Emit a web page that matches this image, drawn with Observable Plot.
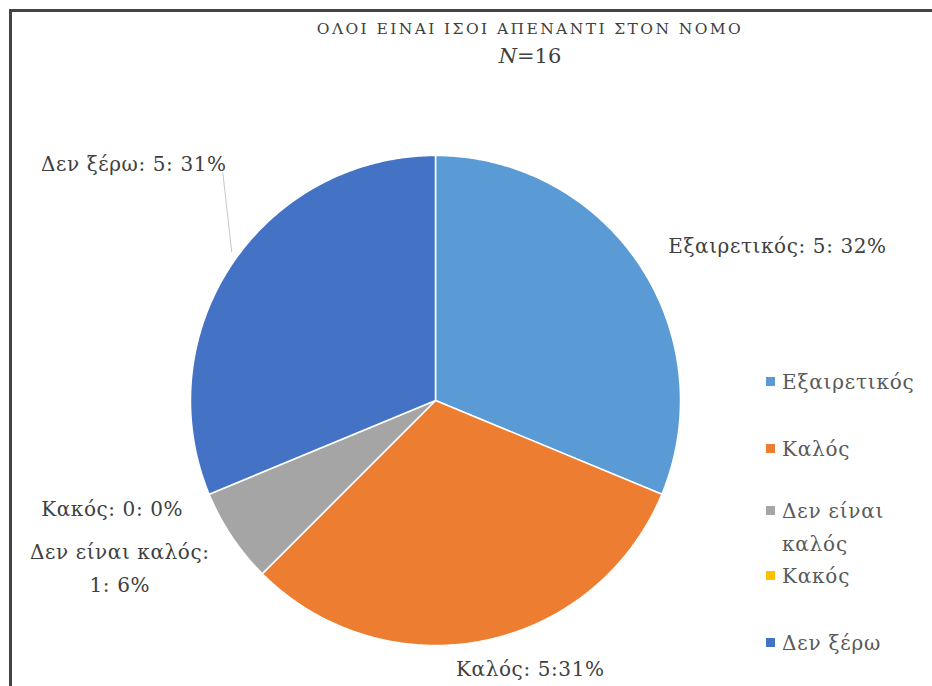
<!DOCTYPE html>
<html>
<head>
<meta charset="utf-8">
<script src="https://cdn.jsdelivr.net/npm/d3@7"></script>
<script src="https://cdn.jsdelivr.net/npm/@observablehq/plot@0.6"></script>
</head>
<body style="margin:0;padding:0;background:#fff">
<div id="wrap" style="position:relative;width:932px;height:686px;overflow:hidden;font-family:'DejaVu Serif'">
  <div id="frame" style="position:absolute;left:9px;top:9px;width:940px;height:700px;border-top:3px solid #444;border-left:3px solid #444"></div>
  <div id="chart" style="position:absolute;left:0;top:0"></div>
  <div id="title" style="position:absolute;left:230px;width:600px;top:20px;text-align:center;font-family:'DejaVu Serif';font-size:15.5px;letter-spacing:2.4px;color:#404040"></div>
  <div id="sub" style="position:absolute;left:330px;width:400px;top:44px;text-align:center;font-family:'DejaVu Serif';font-size:21px;color:#404040"></div>
</div>
<script>
// ---- data ----
const chartTitle = "ΟΛΟΙ ΕΙΝΑΙ ΙΣΟΙ ΑΠΕΝΑΝΤΙ ΣΤΟΝ ΝΟΜΟ";
const sampleSize = 16;
const categories = ["Εξαιρετικός", "Καλός", "Δεν είναι καλός", "Κακός", "Δεν ξέρω"];
const counts = [5, 5, 1, 0, 5];
const percentLabels = ["32%", "31%", "6%", "0%", "31%"];
const dataLabels = ["Εξαιρετικός: 5: 32%", "Καλός: 5:31%", "Δεν είναι καλός:\n1: 6%", "Κακός: 0: 0%", "Δεν ξέρω: 5: 31%"];
const legendLabels = ["Εξαιρετικός", "Καλός", "Δεν είναι\nκαλός", "Κακός", "Δεν ξέρω"];

// ---- style / layout ----
const FONT = "'DejaVu Serif'";
const colors = ["#5B9BD5", "#ED7D31", "#A5A5A5", "#FFC000", "#4472C4"];
const W = 932, H = 686;
const mL = 190, mR = 252, mT = 155, mB = 41;
// label nudges (px) relative to slice edge point at mid-angle
const labelNudge = [
  {dx: 29, dy: -22, anchor: "start"},
  {dx: 47, dy: 25, anchor: "middle"},
  {dx: -112, dy: 28, anchor: "middle"},
  {dx: -97, dy: 11, anchor: "middle"},
  {dx: -98, dy: -104, anchor: "middle"}
];
const legendTops = [366, 433, 495, 560, 627];

document.getElementById("title").textContent = chartTitle;
document.getElementById("sub").innerHTML = "<i>N</i>=" + sampleSize;

const pie = d3.pie().sort(null).value(d => d)(counts);

const pts = [];
pie.forEach((a, i) => {
  if (a.endAngle - a.startAngle <= 0) return;
  const cat = categories[i];
  pts.push({x: 0, y: 0, cat});
  const n = Math.max(2, Math.ceil((a.endAngle - a.startAngle) / 0.01));
  for (let k = 0; k <= n; k++) {
    const t = a.startAngle + (a.endAngle - a.startAngle) * k / n;
    pts.push({x: Math.sin(t), y: Math.cos(t), cat});
  }
});

const labels = pie.map((a, i) => {
  const m = (a.startAngle + a.endAngle) / 2;
  return {x: Math.sin(m), y: Math.cos(m), label: dataLabels[i], i};
});

const k = (W - mL - mR) / 2;
const dk = labels[4];
const leader = [{x1: dk.x - 9 / k, y1: dk.y + 92 / k, x2: dk.x, y2: dk.y + 12 / k}];

const plot = Plot.plot({
  width: W, height: H,
  marginLeft: mL, marginRight: mR, marginTop: mT, marginBottom: mB,
  x: {domain: [-1, 1], axis: null},
  y: {domain: [-1, 1], axis: null},
  color: {domain: categories, range: colors},
  style: {background: "transparent", overflow: "visible", fontFamily: FONT, letterSpacing: "0.6px"},
  marks: [
    Plot.line(pts, {x: "x", y: "y", z: "cat", fill: "cat", stroke: "white", strokeWidth: 1.5, curve: "linear-closed"}),
    Plot.link(leader, {x1: "x1", y1: "y1", x2: "x2", y2: "y2", stroke: "#c8c8c8", strokeWidth: 1}),
    ...labels.map((l, i) => Plot.text([l], {
      x: "x", y: "y", text: "label",
      dx: labelNudge[i].dx, dy: labelNudge[i].dy, textAnchor: labelNudge[i].anchor,
      lineAnchor: "middle", lineHeight: 1.65,
      fontSize: 20, fontFamily: FONT, fill: "#404040"
    }))
  ]
});
document.getElementById("chart").appendChild(plot);

const wrap = document.getElementById("wrap");
legendLabels.forEach((t, i) => {
  const d = document.createElement("div");
  d.style.cssText = `position:absolute;left:766px;top:${legendTops[i]}px;width:165px;font-family:${FONT};font-size:20px;letter-spacing:0.8px;line-height:33px;color:#595959;white-space:nowrap`;
  const lines = t.split("\n");
  d.innerHTML = `<span style="display:inline-block;width:9px;height:9px;margin-right:7px;vertical-align:3px;background:${colors[i]}"></span>${lines[0]}` +
    (lines[1] ? `<br><span style="padding-left:16px">${lines[1]}</span>` : "");
  wrap.appendChild(d);
});
</script>
</body>
</html>
